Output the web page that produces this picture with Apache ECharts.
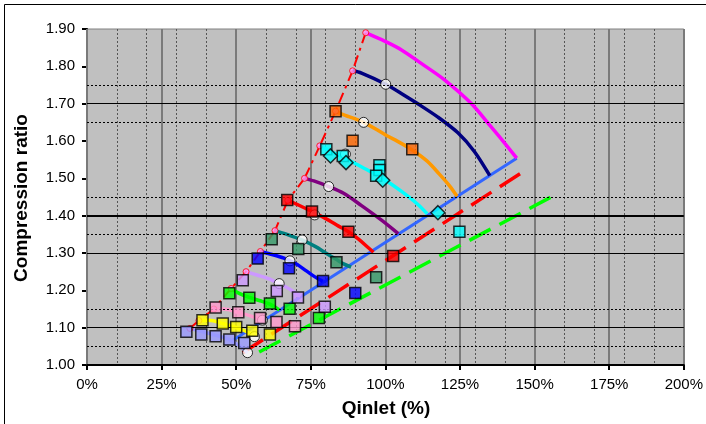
<!DOCTYPE html>
<html>
<head>
<meta charset="utf-8">
<script src="https://cdn.jsdelivr.net/npm/echarts@6/dist/echarts.min.js"></script>
<style>
  html, body { margin: 0; padding: 0; background: #fff; }
  #chart { width: 706px; height: 424px; }
</style>
</head>
<body>
<div id="chart"></div>
<script>
// Axis ranges (Qinlet in %, compression ratio)
const xRange = [0, 200];
const yRange = [1.0, 1.9];

// Reference levels across the map
const boldLevels = [1.40];
const solidLevels = [1.10, 1.30, 1.70];
const dottedLevels = [1.05, 1.15, 1.35, 1.45, 1.65, 1.75];

// Surge line, from top speed down to lowest speed
const surgeLine = [[93.4,1.890],[89.0,1.788],[83.3,1.680],[78.0,1.587],[72.9,1.500],[67.3,1.441],
  [63.0,1.360],[58.1,1.304],[53.3,1.250],[48.3,1.205],[42.5,1.150],[37.5,1.119],[34.5,1.098]];

// Speed lines (model)
const speedMagenta = [[93.4,1.890],[96,1.881],[99.9,1.867],[105.4,1.844],[112,1.808],[119.8,1.764],[128.7,1.701],[135.3,1.639],[140.9,1.585],[144,1.554]];
const speedNavy = [[89.0,1.788],[92,1.782],[100.1,1.752],[106,1.724],[111,1.699],[117.6,1.664],[124.3,1.622],[129.8,1.572],[135,1.507]];
const speedOrange = [[83.3,1.680],[85.4,1.672],[92.7,1.650],[99.9,1.617],[105,1.595],[109,1.576],[114,1.546],[118,1.512],[121.5,1.480],[124,1.452]];
const speedCyan = [[78,1.587],[82,1.571],[86,1.556],[90,1.539],[95,1.518],[100,1.495],[105.4,1.465],[110.9,1.430],[114,1.405]];
const speedPurple = [[72.9,1.500],[76,1.493],[81,1.478],[86,1.460],[92,1.427],[98.7,1.388],[104.3,1.352]];
const speedRed = [[67.3,1.441],[71,1.428],[75.4,1.411],[80,1.392],[84.3,1.372],[87.6,1.357],[91,1.337],[94,1.316],[96,1.302]];
const speedTeal = [[63,1.360],[67,1.350],[72,1.335],[76.6,1.317],[80,1.300],[83.5,1.283],[86,1.271],[88.5,1.262]];
const speedBlue = [[58.1,1.304],[62,1.296],[66,1.286],[70,1.271],[73.5,1.252],[76,1.238],[79,1.224]];
const speedLavender = [[53.3,1.250],[57,1.241],[61,1.231],[64.4,1.218],[68,1.203],[71.5,1.184]];
const speedGreen = [[48.3,1.205],[51,1.192],[54.4,1.181],[58,1.172],[61.3,1.163],[64.5,1.147]];
const speedPink = [[42.5,1.150],[46,1.150],[50.7,1.141],[55,1.131],[58.8,1.120]];
const speedYellow = [[37.5,1.119],[41,1.120],[45.5,1.111],[50,1.100],[53,1.091],[56.1,1.077]];
const speedPeriwinkle = [[34.5,1.098],[38.3,1.090],[43,1.080],[47.7,1.068],[51,1.052],[53.8,1.033]];

// Choke line and offset limit lines
const chokeLine = [[49,1.067],[144,1.554]];
const limitRed = [[52.2,1.033],[146,1.517]];
const limitGreen = [[57.7,1.035],[155.3,1.449]];

// Measured points
const orangeSquares = [[83.3,1.680],[89.0,1.601],[109.0,1.578]];
const cyanSquares = [[80.2,1.578],[85.7,1.560],[98.0,1.535],[98.0,1.522],[96.9,1.507],[124.8,1.357]];
const cyanDiamonds = [[81.6,1.560],[86.8,1.542],[99.1,1.495],[117.6,1.408]];
const redSquares = [[67.1,1.442],[75.4,1.411],[87.6,1.357],[102.6,1.292]];
const tealSquares = [[61.9,1.337],[70.8,1.311],[83.6,1.275],[96.9,1.235]];
const blueSquares = [[57.2,1.285],[67.7,1.259],[79.1,1.225],[89.9,1.193]];
const lavenderSquares = [[52.2,1.227],[63.6,1.198],[70.7,1.181],[79.7,1.156]];
const greenSquares = [[47.7,1.192],[54.4,1.180],[61.3,1.165],[67.9,1.151],[77.7,1.126]];
const pinkSquares = [[43.1,1.154],[50.7,1.141],[58.0,1.126],[63.5,1.115],[69.7,1.104]];
const yellowSquares = [[38.7,1.120],[45.5,1.111],[50.0,1.102],[55.4,1.092],[61.3,1.082]];
const periwinkleSquares = [[33.3,1.089],[38.3,1.082],[43.1,1.077],[47.7,1.068],[52.7,1.059]];
// Operating points
const operatingPoints = [[53.8,1.033],[56.1,1.076],[58.8,1.120],[64.4,1.218],[68.0,1.279],[72.1,1.335],
  [76.3,1.402],[81.0,1.478],[86.6,1.565],[92.7,1.650],[100.1,1.752]];

const FONT = 'Liberation Sans, Arial, sans-serif';

function curve(data, color) {
  return { type: 'line', data: data, smooth: 0.3, symbol: 'none', z: 2, silent: true,
    lineStyle: { color: color, width: 3.5 } };
}
function dashed(data, color) {
  return { type: 'line', data: data, symbol: 'none', z: 2, silent: true,
    lineStyle: { color: color, width: 3.5, type: [24, 10], cap: 'butt' } };
}
function squares(data, color) {
  return { type: 'scatter', data: data, symbol: 'rect', symbolSize: 11, z: 5, silent: true,
    itemStyle: { color: color, borderColor: '#000', borderWidth: 1.5 } };
}

const series = [];

// reference level lines (drawn beneath the curves)
function levels(vals, width, type) {
  return vals.map(v => ({ yAxis: v, lineStyle: { color: '#000', width: width, type: type } }));
}
series.push({
  type: 'line', data: [], z: 1, silent: true,
  markLine: {
    silent: true, symbol: 'none', label: { show: false }, animation: false,
    data: [].concat(levels(dottedLevels, 1, [2, 2]), levels(solidLevels, 1, 'solid'), levels(boldLevels, 2, 'solid'))
  }
});

series.push(dashed(limitGreen, '#00FF00'));
series.push(dashed(limitRed, '#FF0000'));
series.push({ type: 'line', data: chokeLine, symbol: 'none', z: 2, silent: true,
  lineStyle: { color: '#3366FF', width: 3 } });

series.push(curve(speedMagenta, '#FF00FF'));
series.push(curve(speedNavy, '#000080'));
series.push(curve(speedOrange, '#FF9900'));
series.push(curve(speedCyan, '#00FFFF'));
series.push(curve(speedPurple, '#800080'));
series.push(curve(speedRed, '#FF0000'));
series.push(curve(speedTeal, '#008080'));
series.push(curve(speedBlue, '#0000FF'));
series.push(curve(speedLavender, '#CC99FF'));
series.push(curve(speedGreen, '#00FF00'));
series.push(curve(speedPink, '#FF99CC'));
series.push(curve(speedYellow, '#FFFF00'));
series.push(curve(speedPeriwinkle, '#9999FF'));

// surge line: each span drawn on its own so the dash pattern restarts at every speed line
for (let i = 0; i < surgeLine.length - 1; i++) {
  series.push({ type: 'line', data: [surgeLine[i], surgeLine[i + 1]], symbol: 'none', z: 3, silent: true,
    lineStyle: { color: '#FF0000', width: 2, type: [11, 5, 3, 5], cap: 'butt' } });
}
series.push({ type: 'scatter', data: surgeLine, symbol: 'circle', symbolSize: 6, z: 3, silent: true,
  itemStyle: { color: '#FF99FF', borderColor: '#FF0000', borderWidth: 1 } });

series.push({ type: 'scatter', data: operatingPoints, symbol: 'circle', symbolSize: 10, z: 4, silent: true,
  itemStyle: { color: '#FFFFFF', borderColor: '#000', borderWidth: 1 } });

series.push(squares(periwinkleSquares, '#9999FF'));
series.push(squares(yellowSquares, '#FFFF00'));
series.push(squares(pinkSquares, '#FF99CC'));
series.push(squares(greenSquares, '#00FF00'));
series.push(squares(lavenderSquares, '#CC99FF'));
series.push(squares(blueSquares, '#0000FF'));
series.push(squares(tealSquares, '#339966'));
series.push(squares(redSquares, '#FF0000'));
series.push(squares(orangeSquares, '#FF6600'));
series.push(squares(cyanSquares, '#00FFFF'));
series.push({ type: 'scatter', data: cyanDiamonds, symbol: 'diamond', symbolSize: 14, z: 6, silent: true,
  itemStyle: { color: '#00FFFF', borderColor: '#000', borderWidth: 1.5 } });

const chart = echarts.init(document.getElementById('chart'), null, { renderer: 'canvas' });
chart.setOption({
  animation: false,
  backgroundColor: '#FFFFFF',
  grid: { left: 87, top: 29, width: 601, height: 336, show: true,
    backgroundColor: '#C0C0C0', borderColor: '#808080', borderWidth: 1 },
  xAxis: [
    { type: 'value', min: xRange[0], max: xRange[1], interval: 25, z: 1,
      axisLine: { show: true, onZero: false, lineStyle: { color: '#000', width: 2 } },
      axisTick: { show: true, inside: false, length: 5, lineStyle: { color: '#000', width: 2 } },
      axisLabel: { formatter: '{value}%', fontSize: 15, color: '#000', fontFamily: FONT, margin: 12 },
      splitLine: { show: true, lineStyle: { color: '#7A7A7A', width: 2 } } },
    { type: 'value', min: xRange[0], max: xRange[1], interval: 10, position: 'bottom', z: 0,
      axisLine: { show: false }, axisTick: { show: false }, axisLabel: { show: false },
      splitLine: { show: true, lineStyle: { color: '#555', width: 1, type: [2, 2] } } }
  ],
  yAxis: {
    type: 'value', min: yRange[0], max: yRange[1], interval: 0.1,
    axisLine: { show: true, onZero: false, lineStyle: { color: '#000', width: 2 } },
    axisTick: { show: true, inside: false, length: 5, lineStyle: { color: '#000', width: 2 } },
    axisLabel: { formatter: v => v.toFixed(2), fontSize: 15, color: '#000', fontFamily: FONT, margin: 12 },
    splitLine: { show: false }
  },
  graphic: [
    { type: 'rect', shape: { x: 4.5, y: 4.5, width: 800, height: 800 }, silent: true,
      style: { fill: null, stroke: '#000', lineWidth: 1 }, z: 100 },
    { type: 'text', x: 386, y: 409, silent: true,
      style: { text: 'Qinlet (%)', font: 'bold 19px ' + FONT, fill: '#000', textAlign: 'center', textVerticalAlign: 'middle' } },
    { type: 'text', x: 22, y: 198, rotation: Math.PI / 2, silent: true,
      style: { text: 'Compression ratio', font: 'bold 19px ' + FONT, fill: '#000', textAlign: 'center', textVerticalAlign: 'middle' } }
  ],
  series: series
});
</script>
</body>
</html>
